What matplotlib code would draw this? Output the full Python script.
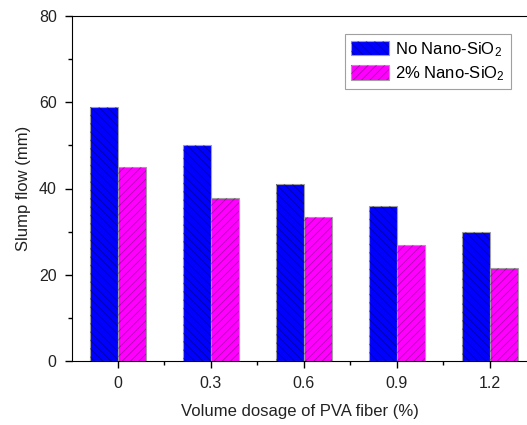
import numpy as np
import matplotlib
matplotlib.use('Agg')
import matplotlib.pyplot as plt
from matplotlib.ticker import MultipleLocator
from matplotlib.legend_handler import HandlerTuple

plt.rcParams['font.family'] = ['Liberation Sans', 'DejaVu Sans']
plt.rcParams['mathtext.fontset'] = 'custom'
plt.rcParams['mathtext.rm'] = 'Liberation Sans'
plt.rcParams['mathtext.it'] = 'Liberation Sans:italic'
plt.rcParams['mathtext.default'] = 'regular'
plt.rcParams['hatch.linewidth'] = 0.6

# data
dosage = [0, 0.3, 0.6, 0.9, 1.2]
tick_labels = ['0', '0.3', '0.6', '0.9', '1.2']
no_nano = [59.0, 50.0, 41.0, 36.0, 30.0]
nano_2 = [45.0, 37.9, 33.3, 26.8, 21.5]
series_names = ['No Nano-SiO$_2$', '2% Nano-SiO$_2$']

x = np.array(dosage)
w = 0.09

fig = plt.figure(figsize=(5.27, 4.25), dpi=100)
ax = fig.add_axes([72/527, 1-361/425, 1-72/527, (361-16)/425])

# filled bars, then hatch on top
b1 = ax.bar(x - w/2, no_nano, w, color='#0000ff', edgecolor='#a0a0a0', linewidth=0.8)
h1 = ax.bar(x - w/2, no_nano, w, facecolor='none', edgecolor=(0, 0, 0.2, 0.45),
            linewidth=0, hatch='\\\\\\\\')
b2 = ax.bar(x + w/2, nano_2, w, color='#ff00ff', edgecolor='#a0a0a0', linewidth=0.8)
h2 = ax.bar(x + w/2, nano_2, w, facecolor='none', edgecolor=(0.2, 0, 0.2, 0.4),
            linewidth=0, hatch='////')

ax.set_xlim(-0.148, 1.32)
ax.set_ylim(0, 80)
ax.set_xticks(dosage)
ax.set_xticklabels(tick_labels)
ax.xaxis.set_minor_locator(MultipleLocator(0.15))
ax.yaxis.set_major_locator(MultipleLocator(20))
ax.yaxis.set_minor_locator(MultipleLocator(10))
ax.tick_params(which='major', direction='out', length=5, width=1, labelsize=11.5,
               pad=6, labelcolor='#222222')
ax.tick_params(which='minor', direction='out', length=3, width=1)
ax.spines['right'].set_visible(False)

ax.set_xlabel('Volume dosage of PVA fiber (%)', fontsize=12, labelpad=9, color='#222222')
ax.set_ylabel('Slump flow (mm)', fontsize=12, labelpad=6, color='#222222')

leg = ax.legend([(b1[0], h1[0]), (b2[0], h2[0])], series_names,
                handler_map={tuple: HandlerTuple(ndivide=1)},
                loc='upper right', bbox_to_anchor=(511/527, 1-34/425),
                bbox_transform=fig.transFigure, borderaxespad=0, fontsize=12,
                handlelength=2.25, handleheight=0.95, handletextpad=0.4,
                borderpad=0.35, labelspacing=0.35, fancybox=False,
                edgecolor='#a0a0a0', framealpha=1)
leg.get_frame().set_linewidth(0.8)

fig.savefig('out.png', dpi=100)
